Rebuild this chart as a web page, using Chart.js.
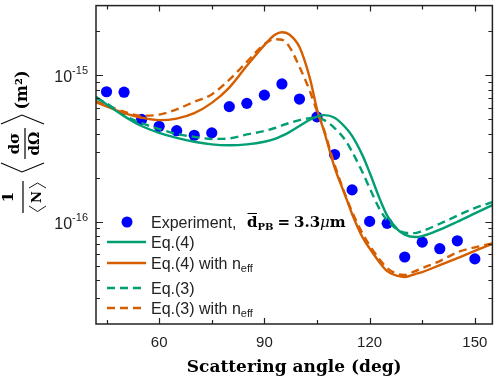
<!DOCTYPE html>
<html>
<head>
<meta charset="utf-8">
<script src="https://cdn.jsdelivr.net/npm/chart.js@4.4.1/dist/chart.umd.min.js"></script>
<style>
html, body { margin: 0; padding: 0; background: #fff; }
</style>
</head>
<body>
<canvas id="chart" width="498" height="380"></canvas>
<script>
// all cross sections are given in units of 1e-16 m^2
const valueUnit = 1e-16;

// measured points
const expAngles = [45, 50, 55, 60, 65, 70, 75, 80, 85, 90, 95, 100, 105, 110, 115, 120, 125, 130, 135, 140, 145, 150];
const expValues = [7.73, 7.68, 5.0, 4.49, 4.19, 3.90, 4.05, 6.12, 6.44, 7.33, 8.74, 6.89, 5.21, 2.88, 1.65, 1.005, 0.975, 0.574, 0.725, 0.654, 0.741, 0.557];

// model curves
const curveAngles = [42, 45, 50, 55, 60, 65, 70, 75, 80, 85, 90, 93, 95, 97, 100, 103, 105, 107, 110, 113, 115, 118, 120, 123, 125, 128, 130, 133, 135, 140, 145, 150, 155];
const eq4 = [7.15, 6.34, 5.27, 4.51, 4.05, 3.74, 3.52, 3.38, 3.33, 3.38, 3.52, 3.68, 3.86, 4.08, 4.51, 4.99, 5.23, 5.35, 5.14, 4.44, 3.86, 2.83, 2.17, 1.41, 1.10, 0.883, 0.817, 0.786, 0.798, 0.883, 1.0, 1.14, 1.30];
const eq4Neff = [6.55, 6.15, 5.52, 5.14, 4.95, 5.07, 5.52, 6.49, 8.26, 11.63, 16.11, 18.96, 19.71, 19.11, 15.62, 9.50, 5.87, 4.17, 2.35, 1.52, 1.13, 0.780, 0.658, 0.521, 0.460, 0.426, 0.419, 0.439, 0.453, 0.505, 0.563, 0.633, 0.705];
const eq3 = [6.97, 6.45, 5.35, 4.72, 4.30, 3.98, 3.80, 3.68, 3.71, 3.95, 4.17, 4.37, 4.55, 4.72, 4.95, 5.11, 5.14, 4.95, 4.37, 3.63, 3.01, 2.17, 1.70, 1.20, 1.02, 0.883, 0.843, 0.836, 0.863, 0.969, 1.10, 1.24, 1.36];
const eq3Neff = [6.65, 6.25, 5.65, 5.31, 5.39, 5.87, 6.60, 7.41, 9.35, 12.37, 16.36, 17.68, 17.54, 15.86, 11.45, 7.77, 5.69, 4.24, 2.46, 1.54, 1.17, 0.830, 0.689, 0.546, 0.482, 0.439, 0.433, 0.460, 0.482, 0.538, 0.618, 0.668, 0.711];

// axes
const xTicks = [45, 60, 75, 90, 105, 120, 135, 150];
const xLabels = [60, 90, 120, 150];
const yTicks = [3e-17, 4e-17, 5e-17, 6e-17, 7e-17, 8e-17, 9e-17,
                1e-16, 2e-16, 3e-16, 4e-16, 5e-16, 6e-16, 7e-16, 8e-16, 9e-16,
                1e-15, 2e-15];
const yLabels = [1e-16, 1e-15];

const blue = '#0000ff';
const green = '#009e73';
const orange = '#d55e00';
const axisColor = '#222';

function toPoints(xs, ys) {
    return xs.map((x, i) => ({ x: x, y: ys[i] * valueUnit }));
}

function curve(label, values, color, dashed) {
    return {
        label: label,
        data: toPoints(curveAngles, values),
        borderColor: color,
        borderWidth: 2.4,
        borderDash: dashed ? [8, 5] : [],
        pointRadius: 0,
        cubicInterpolationMode: 'monotone',
        fill: false
    };
}

// frame, inward ticks, y tick labels, y title and legend
const decorPlugin = {
    id: 'decor',
    afterDraw(chart) {
        const ctx = chart.ctx;
        const a = chart.chartArea;
        const xs = chart.scales.x;
        const ys = chart.scales.y;

        ctx.save();
        ctx.strokeStyle = axisColor;
        ctx.lineWidth = 1.5;
        ctx.strokeRect(a.left, a.top, a.right - a.left, a.bottom - a.top);

        ctx.lineWidth = 1.2;
        ctx.beginPath();
        xTicks.forEach(v => {
            const px = Math.round(xs.getPixelForValue(v)) + 0.5;
            const len = xLabels.includes(v) ? 6 : 4;
            ctx.moveTo(px, a.bottom); ctx.lineTo(px, a.bottom - len);
            ctx.moveTo(px, a.top); ctx.lineTo(px, a.top + len);
        });
        yTicks.forEach(v => {
            const py = Math.round(ys.getPixelForValue(v)) + 0.5;
            const major = yLabels.some(l => Math.abs(l - v) < l * 1e-6);
            const len = major ? 7 : 4;
            ctx.moveTo(a.left, py); ctx.lineTo(a.left + len, py);
            ctx.moveTo(a.right, py); ctx.lineTo(a.right - len, py);
        });
        ctx.stroke();

        // y tick labels as 10^n
        ctx.fillStyle = axisColor;
        ctx.textBaseline = 'alphabetic';
        yLabels.forEach(v => {
            const py = ys.getPixelForValue(v);
            const exp = Math.round(Math.log10(v));
            const sup = '-' + Math.abs(exp);
            ctx.font = '11px "Liberation Sans", Arial, sans-serif';
            ctx.textAlign = 'right';
            ctx.fillText(sup, a.left - 8, py - 1);
            const w = ctx.measureText(sup).width;
            ctx.font = '16px "Liberation Sans", Arial, sans-serif';
            ctx.fillText('10', a.left - 8 - w, py + 7);
        });

        drawYTitle(ctx);
        drawLegend(ctx);
        ctx.restore();
    }
};

function rotText(ctx, text, x, y, font) {
    ctx.save();
    ctx.translate(x, y);
    ctx.rotate(-Math.PI / 2);
    ctx.font = font;
    ctx.textAlign = 'center';
    ctx.textBaseline = 'middle';
    ctx.fillText(text, 0, 0);
    ctx.restore();
}

function line(ctx, pts) {
    ctx.beginPath();
    ctx.moveTo(pts[0][0], pts[0][1]);
    for (let i = 1; i < pts.length; i++) ctx.lineTo(pts[i][0], pts[i][1]);
    ctx.stroke();
}

// (1/<N>) <dsigma/dOmega> (m^2), written bottom to top
function drawYTitle(ctx) {
    const f = 'bold 15px "DejaVu Serif", serif';
    ctx.fillStyle = '#000';
    ctx.strokeStyle = '#000';
    ctx.lineWidth = 1.2;

    rotText(ctx, '1', 9, 197, f);
    line(ctx, [[23, 181], [23, 213]]);
    rotText(ctx, 'N', 37.5, 197, 'bold 13px "DejaVu Serif", serif');
    ctx.lineWidth = 0.9;
    line(ctx, [[29, 206], [37.5, 211.5], [46, 206]]);
    line(ctx, [[29, 188], [37.5, 183], [46, 188]]);

    ctx.lineWidth = 1.1;
    line(ctx, [[1, 163], [22, 172], [44, 163]]);
    line(ctx, [[1, 124], [22, 115], [44, 124]]);
    rotText(ctx, 'dσ', 15, 143.5, f);
    ctx.lineWidth = 1.2;
    line(ctx, [[25, 128], [25, 159]]);
    rotText(ctx, 'dΩ', 35, 143.5, f);

    rotText(ctx, '(m²)', 23, 90, 'bold 16px "DejaVu Serif", serif');
}

function drawLegend(ctx) {
    const sans = '16px "Liberation Sans", Arial, sans-serif';
    const small = '11px "Liberation Sans", Arial, sans-serif';
    const tx = 151;
    const rows = [
        { y: 242, color: green, dash: [], text: 'Eq.(4)', neff: false },
        { y: 263, color: orange, dash: [], text: 'Eq.(4) with n', neff: true },
        { y: 288, color: green, dash: [8, 5], text: 'Eq.(3)', neff: false },
        { y: 308, color: orange, dash: [8, 5], text: 'Eq.(3) with n', neff: true }
    ];

    ctx.fillStyle = blue;
    ctx.beginPath();
    ctx.arc(127, 222, 5.5, 0, Math.PI * 2);
    ctx.fill();

    ctx.fillStyle = '#222';
    ctx.textAlign = 'left';
    ctx.textBaseline = 'alphabetic';
    ctx.font = sans;
    ctx.fillText('Experiment,', tx, 228);

    // d-bar_PB = 3.3 mu m
    let x = 247;
    ctx.fillStyle = '#000';
    ctx.font = 'bold 15px "DejaVu Serif", serif';
    ctx.fillText('d', x, 227);
    const dw = ctx.measureText('d').width;
    ctx.strokeStyle = '#000';
    ctx.lineWidth = 1;
    line(ctx, [[x + 0.5, 213.5], [x + dw - 0.5, 213.5]]);
    x += dw;
    ctx.font = 'bold 10px "DejaVu Serif", serif';
    ctx.fillText('PB', x, 229.5);
    x += ctx.measureText('PB').width + 4;
    ctx.font = 'bold 15px "DejaVu Serif", serif';
    ctx.fillText('=', x, 227);
    x += ctx.measureText('=').width + 4;
    ctx.fillText('3.3', x, 227);
    x += ctx.measureText('3.3').width;
    ctx.font = 'italic 15px "DejaVu Serif", serif';
    ctx.fillText('μ', x, 227);
    x += ctx.measureText('μ').width;
    ctx.font = 'bold 15px "DejaVu Serif", serif';
    ctx.fillText('m', x, 227);

    rows.forEach(r => {
        ctx.strokeStyle = r.color;
        ctx.lineWidth = 2.4;
        ctx.setLineDash(r.dash);
        line(ctx, [[107, r.y], [146, r.y]]);
        ctx.setLineDash([]);
        ctx.fillStyle = '#222';
        ctx.font = sans;
        ctx.fillText(r.text, tx, r.y + 6);
        if (r.neff) {
            const w = ctx.measureText(r.text).width;
            ctx.font = small;
            ctx.fillText('eff', tx + w, r.y + 9);
        }
    });
}

const chart = new Chart(document.getElementById('chart'), {
    type: 'line',
    data: {
        datasets: [
            {
                label: 'Experiment',
                data: toPoints(expAngles, expValues),
                showLine: false,
                pointRadius: 5.6,
                pointHoverRadius: 5.6,
                pointBackgroundColor: blue,
                pointBorderWidth: 0,
                borderColor: blue,
                order: 5
            },
            curve('Eq.(4)', eq4, green, false),
            curve('Eq.(4) with neff', eq4Neff, orange, false),
            curve('Eq.(3)', eq3, green, true),
            curve('Eq.(3) with neff', eq3Neff, orange, true)
        ]
    },
    options: {
        responsive: false,
        animation: false,
        layout: { padding: { left: 0, right: 1, top: 2, bottom: 0 } },
        plugins: {
            legend: { display: false },
            tooltip: { enabled: false }
        },
        scales: {
            x: {
                type: 'linear',
                min: 42,
                max: 155,
                afterBuildTicks: s => { s.ticks = xTicks.map(v => ({ value: v })); },
                afterFit: s => { s.height = 56; },
                grid: { display: false, drawTicks: false },
                border: { display: false },
                ticks: {
                    autoSkip: false,
                    maxRotation: 0,
                    padding: 10,
                    color: '#222',
                    font: { family: '"Liberation Sans", Arial, sans-serif', size: 15 },
                    callback: v => xLabels.includes(v) ? String(v) : ''
                },
                title: {
                    display: true,
                    text: 'Scattering angle (deg)',
                    color: '#000',
                    font: { family: '"DejaVu Serif", serif', size: 17, weight: 'bold' },
                    padding: { top: 0, bottom: 2 }
                }
            },
            y: {
                type: 'logarithmic',
                min: 2e-17,
                max: 3e-15,
                afterBuildTicks: s => { s.ticks = yTicks.map(v => ({ value: v })); },
                afterFit: s => { s.width = 96; },
                grid: { display: false, drawTicks: false },
                border: { display: false },
                ticks: { display: false }
            }
        }
    },
    plugins: [decorPlugin]
});
</script>
</body>
</html>
